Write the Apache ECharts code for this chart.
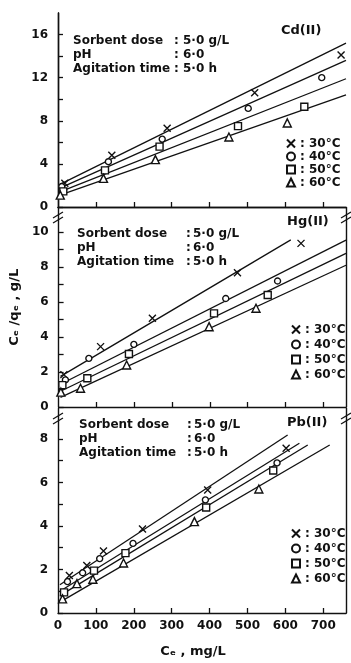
<!DOCTYPE html>
<html><head><meta charset="utf-8">
<script src="https://cdn.jsdelivr.net/npm/echarts@6/dist/echarts.min.js"></script>
<style>html,body{margin:0;padding:0;background:#fff}#c{width:351px;height:663px}</style>
</head><body><div id="c"></div>
<script>
// ---- data ----
const temps = ['30°C', '40°C', '50°C', '60°C'];
const xTickValues = [100, 200, 300, 400, 500, 600, 700];
const xLabelValues = [0, 100, 200, 300, 400, 500, 600, 700];
const panelNames = ['Cd(II)', 'Hg(II)', 'Pb(II)'];
const conditionLabels = ['Sorbent dose', 'pH', 'Agitation time'];
const conditionValues = ['5·0 g/L', '6·0', '5·0 h'];

const cdYTicks = [0, 2, 4, 6, 8, 10, 12, 14, 16];
const cdYLabels = [0, 4, 8, 12, 16];
const hgYTicks = [0, 1, 2, 3, 4, 5, 6, 7, 8, 9, 10];
const hgYLabels = [0, 2, 4, 6, 8, 10];
const pbYTicks = [0, 1, 2, 3, 4, 5, 6, 7, 8];
const pbYLabels = [0, 2, 4, 6, 8];

// Cd(II)
const cd30 = [[18, 2.2], [142, 4.8], [288, 7.3], [519, 10.6], [747, 14.1]];
const cd40 = [[10, 1.9], [133, 4.2], [275, 6.3], [502, 9.15], [696, 12.0]];
const cd50 = [[14, 1.45], [124, 3.4], [268, 5.6], [475, 7.5], [650, 9.3]];
const cd60 = [[6, 1.1], [120, 2.66], [257, 4.4], [451, 6.5], [605, 7.8]];
const cdFit30 = [[5, 2.1], [760, 15.2]];
const cdFit40 = [[5, 1.75], [760, 13.6]];
const cdFit50 = [[5, 1.4], [760, 11.9]];
const cdFit60 = [[5, 1.1], [760, 10.4]];

// Hg(II)
const hg30 = [[14, 1.85], [111, 3.45], [248, 5.07], [473, 7.67], [641, 9.35]];
const hg40 = [[18, 1.55], [80, 2.78], [199, 3.58], [442, 6.2], [579, 7.2]];
const hg50 = [[10, 1.25], [76, 1.64], [186, 3.03], [411, 5.35], [553, 6.4]];
const hg60 = [[6, 0.85], [58, 1.07], [180, 2.4], [398, 4.59], [522, 5.64]];
const hgFit30 = [[5, 1.75], [614, 9.55]];
const hgFit40 = [[5, 1.3], [760, 9.54]];
const hgFit50 = [[5, 0.9], [760, 8.78]];
const hgFit60 = [[5, 0.55], [760, 8.1]];

// Pb(II)
const pb30 = [[30, 1.72], [76, 2.18], [120, 2.85], [223, 3.86], [395, 5.65], [602, 7.57]];
const pb40 = [[25, 1.44], [65, 1.85], [110, 2.5], [198, 3.2], [389, 5.2], [578, 6.9]];
const pb50 = [[16, 0.95], [95, 1.95], [178, 2.75], [391, 4.85], [568, 6.55]];
const pb60 = [[12, 0.65], [50, 1.35], [92, 1.55], [173, 2.3], [360, 4.2], [530, 5.7]];
const pbFit30 = [[5, 1.3], [606, 8.18]];
const pbFit40 = [[5, 1.0], [637, 7.8]];
const pbFit50 = [[5, 0.8], [659, 7.72]];
const pbFit60 = [[5, 0.5], [717, 7.72]];

// ---- layout ----
const FONT = 'DejaVu Sans';
const INK = '#111';
const L = 58, W = 288;
const grids = [
  { top: 13, height: 194 },
  { top: 207.5, height: 199.5 },
  { top: 408.5, height: 204.5 }
];
const yMax = [18, 11.4, 9.4];
const yTicks = [cdYTicks, hgYTicks, pbYTicks];
const yLabels = [cdYLabels, hgYLabels, pbYLabels];
const points = [[cd30, cd40, cd50, cd60], [hg30, hg40, hg50, hg60], [pb30, pb40, pb50, pb60]];
const fits = [[cdFit30, cdFit40, cdFit50, cdFit60], [hgFit30, hgFit40, hgFit50, hgFit60], [pbFit30, pbFit40, pbFit50, pbFit60]];
const symbols = ['path://M0,0L10,10M0,10L10,0', 'circle', 'rect', 'triangle'];
const symSizes = [7, 6, 7, 8];

const txt = (extra) => Object.assign({ fontFamily: FONT, fontWeight: 'bold', fontSize: 12, color: INK }, extra || {});

const option = {
  animation: false,
  backgroundColor: '#fff',
  grid: grids.map(g => ({ left: L, width: W, top: g.top, height: g.height })),
  xAxis: [],
  yAxis: [],
  series: [],
  legend: [],
  title: [],
  graphic: []
};

grids.forEach((g, i) => {
  option.xAxis.push({
    type: 'value', gridIndex: i, min: 0, max: 760, position: 'bottom',
    axisLine: { show: true, lineStyle: { color: INK, width: 1.4 } },
    axisTick: { show: true, inside: true, length: 5, customValues: xTickValues, lineStyle: { color: INK, width: 1.3 } },
    axisLabel: i === 2 ? Object.assign(txt({ fontSize: 12 }), { show: true, margin: 7, customValues: xLabelValues }) : { show: false },
    splitLine: { show: false },
    name: i === 2 ? 'Cₑ , mg/L' : '',
    nameLocation: 'middle', nameGap: 32,
    nameTextStyle: txt({ fontSize: 13, padding: [0, 18, 0, 0] })
  });
  option.yAxis.push({
    type: 'value', gridIndex: i, min: 0, max: yMax[i],
    axisLine: { show: true, lineStyle: { color: INK, width: 1.4 } },
    axisTick: { show: true, inside: true, length: 5, customValues: yTicks[i], lineStyle: { color: INK, width: 1.3 } },
    axisLabel: Object.assign(txt({ fontSize: 12 }), { margin: 10, customValues: yLabels[i] }),
    splitLine: { show: false },
    name: i === 1 ? 'Cₑ /qₑ , g/L' : '',
    nameLocation: 'middle', nameGap: 26,
    nameTextStyle: txt({ fontSize: 13 })
  });
});
// right border for each panel, top border for the first
grids.forEach((g, i) => {
  option.yAxis.push({
    type: 'value', gridIndex: i, min: 0, max: yMax[i], position: 'right',
    axisLine: { show: true, lineStyle: { color: INK, width: 1.4 } },
    axisTick: { show: false }, axisLabel: { show: false }, splitLine: { show: false }
  });
});
option.xAxis.push({
  type: 'value', gridIndex: 0, min: 0, max: 760, position: 'top',
  axisLine: { show: true, lineStyle: { color: INK, width: 1.4 } },
  axisTick: { show: false }, axisLabel: { show: false }, splitLine: { show: false }
});

grids.forEach((g, i) => {
  temps.forEach((t, k) => {
    option.series.push({
      type: 'line', name: panelNames[i] + ' fit ' + t,
      xAxisIndex: i, yAxisIndex: i, data: fits[i][k],
      showSymbol: false, symbol: 'none', silent: true,
      lineStyle: { color: INK, width: 1.3 }
    });
  });
  temps.forEach((t, k) => {
    option.series.push({
      type: 'scatter', name: t, xAxisIndex: i, yAxisIndex: i, data: points[i][k],
      symbol: symbols[k], symbolSize: symSizes[k],
      itemStyle: { color: '#fff', borderColor: INK, borderWidth: 1.4, opacity: 1 },
      z: 5
    });
  });
});

const legendPos = [{ left: 281, top: 132, gap: 0 }, { left: 286, top: 318, gap: 2 }, { left: 286, top: 522, gap: 2 }];
legendPos.forEach(p => {
  option.legend.push({
    data: temps, orient: 'vertical', left: p.left, top: p.top,
    itemWidth: 8, itemHeight: 8, itemGap: p.gap, selectedMode: false,
    formatter: n => ': ' + n,
    textStyle: txt({ fontSize: 12, lineHeight: 13 })
  });
});

const titlePos = [{ left: 281, top: 24 }, { left: 287, top: 215 }, { left: 287, top: 416 }];
titlePos.forEach((p, i) => {
  option.title.push({ text: panelNames[i], left: p.left, top: p.top, padding: 0, textStyle: txt({ fontSize: 13 }) });
});

const condPos = [
  { x: 73, c: 174, v: 183, y: 42 },
  { x: 77, c: 186, v: 193, y: 235 },
  { x: 79, c: 187, v: 194, y: 426 }
];
condPos.forEach(p => {
  conditionLabels.forEach((lab, r) => {
    const y = p.y + r * 14;
    option.graphic.push({ type: 'text', left: p.x, top: y - 7, style: { text: lab, fill: INK, font: 'bold 12px "DejaVu Sans"' } });
    option.graphic.push({ type: 'text', left: p.c, top: y - 7, style: { text: ':', fill: INK, font: 'bold 12px "DejaVu Sans"' } });
    option.graphic.push({ type: 'text', left: p.v, top: y - 7, style: { text: conditionValues[r], fill: INK, font: 'bold 12px "DejaVu Sans"' } });
  });
});

// axis-break marks where the panels join
[grids[1].top + 10, grids[2].top + 10].forEach(y => {
  [L, L + W].forEach(x => {
    [-2.5, 2.5].forEach(d => {
      option.graphic.push({ type: 'line', shape: { x1: x - 5, y1: y + d + 3, x2: x + 5, y2: y + d - 3 }, style: { stroke: INK, lineWidth: 1.3 } });
    });
  });
});

const chart = echarts.init(document.getElementById('c'), null, { renderer: 'canvas' });
chart.setOption(option);
</script>
</body></html>
